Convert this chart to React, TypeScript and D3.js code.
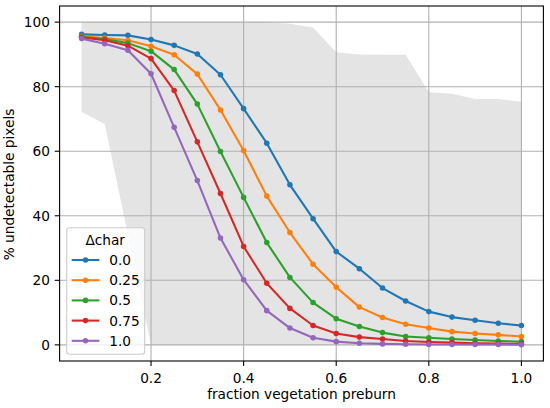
import React from "react";
import * as d3 from "d3";

const xs = [0.05, 0.1, 0.15, 0.2, 0.25, 0.3, 0.35, 0.4, 0.45, 0.5, 0.55, 0.6, 0.65, 0.7, 0.75, 0.8, 0.85, 0.9, 0.95, 1.0];

const upperBound = [100, 100, 100, 100, 100, 100, 100, 100, 100, 99.5, 98.3, 90.7, 90.0, 89.9, 89.9, 78.3, 77.8, 76.2, 76.2, 75.3];
const lowerBound = [72.2, 68.4, 34.2, 0, 0, 0, 0, 0, 0, 0, 0, 0, 0, 0, 0, 0, 0, 0, 0, 0];

const charLabels = ["0.0", "0.25", "0.5", "0.75", "1.0"];
const colors = ["#1f77b4", "#ff7f0e", "#2ca02c", "#d62728", "#9467bd"];

const char00 = [96.2, 96.0, 95.9, 94.6, 92.8, 90.1, 83.7, 73.2, 62.5, 49.6, 39.1, 28.9, 23.6, 17.6, 13.6, 10.3, 8.6, 7.6, 6.7, 6.0];
const char025 = [95.6, 95.1, 94.4, 92.5, 89.9, 83.9, 72.8, 60.2, 46.1, 34.8, 25.0, 17.9, 11.7, 8.5, 6.4, 5.2, 4.1, 3.5, 3.1, 2.6];
const char05 = [95.4, 94.8, 93.5, 91.0, 85.3, 74.6, 59.9, 45.7, 31.7, 20.9, 13.1, 8.1, 5.7, 3.8, 2.6, 2.2, 1.8, 1.5, 1.2, 1.0];
const char075 = [95.3, 94.4, 92.7, 88.7, 78.8, 62.9, 46.9, 30.5, 19.1, 11.3, 6.0, 3.5, 2.4, 1.8, 1.2, 0.9, 0.7, 0.5, 0.4, 0.3];
const char10 = [94.9, 93.3, 91.3, 84.0, 67.4, 50.9, 33.1, 20.2, 10.6, 5.2, 2.2, 1.0, 0.5, 0.3, 0.2, 0.1, 0.1, 0.1, 0.1, 0.05];
const series = [char00, char025, char05, char075, char10];

const xTicks = [0.2, 0.4, 0.6, 0.8, 1.0];
const yTicks = [0, 20, 40, 60, 80, 100];

const W = 550;
const H = 408;
const plot = { left: 59.6, right: 543.4, top: 6, bottom: 361 };
const font = "'DejaVu Sans', sans-serif";
const fs = 13.7;
const lw = 2.08;
const mr = 2.78;
const thin = 1.1;

export default function App() {
  const x = d3.scaleLinear().domain([0.0025, 1.0475]).range([plot.left, plot.right]);
  const y = d3.scaleLinear().domain([-5, 105]).range([plot.bottom, plot.top]);

  const area = d3
    .area<number>()
    .x((_, i) => x(xs[i]))
    .y0((_, i) => y(lowerBound[i]))
    .y1((d) => y(d));

  const line = d3
    .line<number>()
    .x((_, i) => x(xs[i]))
    .y((d) => y(d));

  const legX = 66.7;
  const legY = 227.7;
  const rowH = 20.2;

  return (
    <svg width={W} height={H} style={{ position: "absolute", left: 0, top: 0, background: "#fff" }} fontFamily={font}>
      <path d={area(upperBound) ?? ""} fill="#e4e4e4" />
      {xTicks.map((t) => (
        <line key={"gx" + t} x1={x(t)} x2={x(t)} y1={plot.top} y2={plot.bottom} stroke="#b0b0b0" strokeWidth={thin} />
      ))}
      {yTicks.map((t) => (
        <line key={"gy" + t} x1={plot.left} x2={plot.right} y1={y(t)} y2={y(t)} stroke="#b0b0b0" strokeWidth={thin} />
      ))}
      {series.map((s, k) => (
        <g key={"s" + k}>
          <path d={line(s) ?? ""} fill="none" stroke={colors[k]} strokeWidth={lw} strokeLinejoin="round" strokeLinecap="square" />
          {s.map((v, i) => (
            <circle key={i} cx={x(xs[i])} cy={y(v)} r={mr} fill={colors[k]} />
          ))}
        </g>
      ))}
      <rect
        x={plot.left}
        y={plot.top}
        width={plot.right - plot.left}
        height={plot.bottom - plot.top}
        fill="none"
        stroke="#000"
        strokeWidth={thin}
      />
      {xTicks.map((t) => (
        <g key={"tx" + t}>
          <line x1={x(t)} x2={x(t)} y1={plot.bottom} y2={plot.bottom + 4.9} stroke="#000" strokeWidth={thin} />
          <text x={x(t)} y={plot.bottom + 21.5} textAnchor="middle" fontSize={fs} fill="#000">
            {t.toFixed(1)}
          </text>
        </g>
      ))}
      {yTicks.map((t) => (
        <g key={"ty" + t}>
          <line x1={plot.left - 4.9} x2={plot.left} y1={y(t)} y2={y(t)} stroke="#000" strokeWidth={thin} />
          <text x={plot.left - 9.7} y={y(t) + 5} textAnchor="end" fontSize={fs} fill="#000">
            {t}
          </text>
        </g>
      ))}
      <text x={(plot.left + plot.right) / 2} y={399} textAnchor="middle" fontSize={fs} fill="#000">
        fraction vegetation preburn
      </text>
      <text
        transform={`translate(13.5,184.5) rotate(-90)`}
        textAnchor="middle"
        fontSize={fs}
        fill="#000"
      >
        % undetectable pixels
      </text>
      <g>
        <rect x={legX} y={legY} width={78} height={126.6} rx={3} fill="#fff" fillOpacity={0.8} stroke="#cccccc" strokeWidth={thin} />
        <text x={legX + 38.5} y={legY + 17.5} textAnchor="middle" fontSize={fs} fill="#000">
          Δchar
        </text>
        {charLabels.map((lab, k) => {
          const cy = legY + 32.3 + k * rowH;
          return (
            <g key={"l" + k}>
              <line x1={legX + 5} x2={legX + 32.7} y1={cy} y2={cy} stroke={colors[k]} strokeWidth={lw} />
              <circle cx={legX + 18.8} cy={cy} r={mr} fill={colors[k]} />
              <text x={legX + 42.5} y={cy + 5} fontSize={fs} fill="#000">
                {lab}
              </text>
            </g>
          );
        })}
      </g>
    </svg>
  );
}
